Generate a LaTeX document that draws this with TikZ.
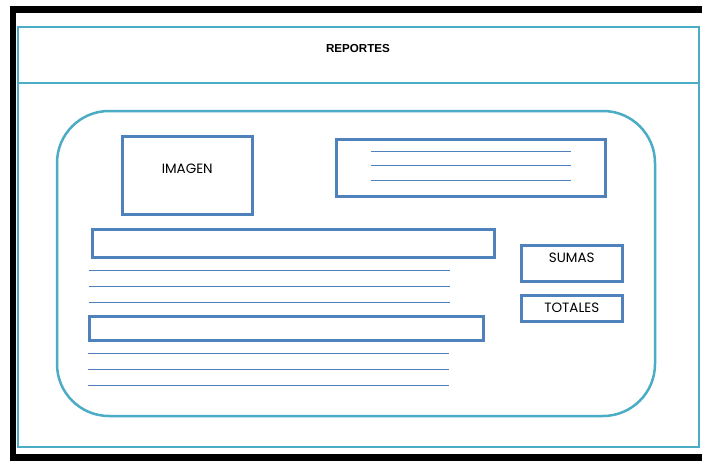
\documentclass[tikz,border=0pt]{standalone}
\usepackage{fontspec}
\setmainfont{Poppins}
\newfontfamily\titlefont{Liberation Sans}
\definecolor{aqua}{HTML}{4BACC6}
\definecolor{steel}{HTML}{4F81BD}
\begin{document}
\begin{tikzpicture}[
            x=1pt, y=-1pt,
            frame/.style={draw=aqua, line width=2.5pt},
            block/.style={draw=steel, line width=2.5pt, anchor=north west, inner sep=0pt},
            rule/.style={draw=steel, line width=0.9pt},
            label/.style={font=\fontsize{13.5}{15}\selectfont}
        ]
        \useasboundingbox (0,0) rectangle (702,461);
        \fill[white] (0,0) rectangle (702,461);
        % marco exterior
        \draw[line width=6.5pt] (13,9.5) rectangle (712,457.5);
        \draw[frame] (18,27) rectangle (699,447);
        \draw[frame] (18,83) -- (699,83);
        \node[font=\titlefont\bfseries\fontsize{11.6}{13}\selectfont] (titulo) at (358,49) {REPORTES};
        % cuerpo
        \draw[frame, rounded corners=52pt] (57,111) rectangle (655,416);
        \node[block, minimum width=130pt, minimum height=78pt] (imagen) at (121,135) {};
        \node[label] at ([yshift=-34pt]imagen.north) {IMAGEN};
        \node[block, minimum width=269pt, minimum height=57pt] (encabezado) at (335,138) {};
        \foreach \y in {151,165,180}
            \draw[rule] (371,\y) -- (571,\y);
        \node[block, minimum width=402pt, minimum height=28pt] (fila1) at (91,228) {};
        \foreach \y in {270,286,302}
            \draw[rule] (89,\y) -- (450,\y);
        \node[block, minimum width=394pt, minimum height=24pt] (fila2) at (88,315) {};
        \foreach \y in {353,369,385}
            \draw[rule] (88,\y) -- (449,\y);
        \node[block, minimum width=101pt, minimum height=36pt] (sumas) at (520,244) {};
        \node[label] at ([yshift=-14pt]sumas.north) {SUMAS};
        \node[block, minimum width=101pt, minimum height=26pt] (totales) at (520,294) {};
        \node[label] at (totales.center) {TOTALES};
    \end{tikzpicture}
\end{document}
